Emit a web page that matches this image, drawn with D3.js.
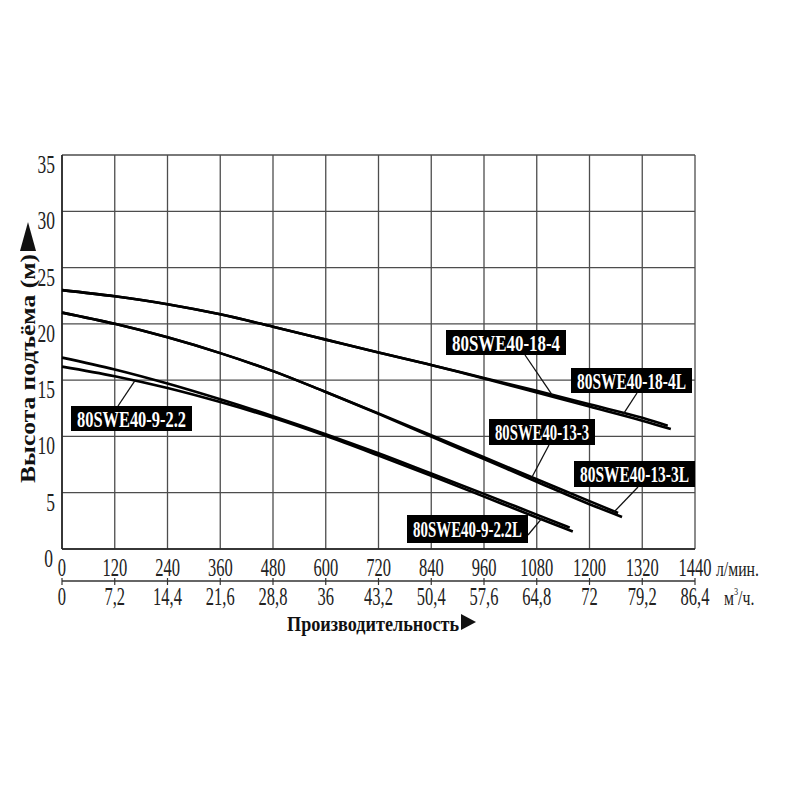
<!DOCTYPE html>
<html>
<head>
<meta charset="utf-8">
<script src="https://cdn.jsdelivr.net/npm/d3@7"></script>
<style>
  body { margin: 0; background: #fff; }
  text { font-family: "Liberation Serif", "DejaVu Serif", serif; }
</style>
</head>
<body>
<script>
// axis ticks
const flowLpm = [0, 120, 240, 360, 480, 600, 720, 840, 960, 1080, 1200, 1320, 1440];
const flowM3h = ["0", "7,2", "14,4", "21,6", "28,8", "36", "43,2", "50,4", "57,6", "64,8", "72", "79,2", "86,4"];
const headTicks = [0, 5, 10, 15, 20, 25, 30, 35];

// pump curves (q in l/min, head in m)
const q_18_4   = [0, 120, 240, 360, 480, 600, 720, 840, 960, 1080, 1200, 1320, 1378];
const h_18_4   = [23.0, 22.45, 21.75, 20.85, 19.75, 18.6, 17.45, 16.35, 15.2, 14.05, 12.85, 11.65, 10.95];
const q_18_4L  = [0, 120, 240, 360, 480, 600, 720, 840, 960, 1080, 1200, 1320, 1385];
const h_18_4L  = [23.0, 22.45, 21.75, 20.85, 19.75, 18.6, 17.45, 16.35, 15.15, 13.9, 12.65, 11.4, 10.65];
const q_13_3   = [0, 120, 240, 360, 480, 600, 720, 840, 960, 1080, 1200, 1265];
const h_13_3   = [21.0, 20.0, 18.8, 17.4, 15.8, 13.95, 12.05, 10.1, 8.15, 6.2, 4.25, 3.2];
const q_13_3L  = [0, 120, 240, 360, 480, 600, 720, 840, 960, 1080, 1200, 1274];
const h_13_3L  = [21.0, 20.0, 18.8, 17.4, 15.8, 13.95, 12.0, 9.98, 7.98, 5.98, 3.98, 2.85];
const q_9_22   = [0, 120, 240, 360, 480, 600, 720, 840, 960, 1080, 1162];
const h_9_22   = [16.2, 15.35, 14.3, 13.05, 11.65, 10.05, 8.3, 6.5, 4.65, 2.8, 1.55];
const q_9_22L  = [0, 120, 240, 360, 480, 600, 720, 840, 960, 1080, 1155];
const h_9_22L  = [17.0, 15.95, 14.7, 13.3, 11.8, 10.2, 8.5, 6.7, 4.9, 3.05, 1.9];

const names = ["80SWE40-18-4", "80SWE40-18-4L", "80SWE40-13-3", "80SWE40-13-3L", "80SWE40-9-2.2", "80SWE40-9-2.2L"];
const flows = [q_18_4, q_18_4L, q_13_3, q_13_3L, q_9_22, q_9_22L];
const heads = [h_18_4, h_18_4L, h_13_3, h_13_3L, h_9_22, h_9_22L];
// flow where each leader line touches its curve
const anchorQ = [1115, 1275, 1069, 1253, 166, 1094];

const svg = d3.select("body").append("svg")
    .attr("width", 800)
    .attr("height", 800);

const x = d3.scaleLinear().domain([0, 1440]).range([62, 695]);
const y = d3.scaleLinear().domain([0, 35]).range([549, 155]);

// the original uses a condensed face: squeeze with a horizontal scale
function squeezed(g, px, py, k) {
    return g.append("text")
        .attr("transform", `translate(${px},${py}) scale(${k},1)`);
}

// grid
const grid = svg.append("g").attr("stroke", "#4d4d4d").attr("stroke-width", 1.3);
grid.selectAll("line.v")
    .data(flowLpm)
    .enter().append("line")
    .attr("x1", d => x(d)).attr("x2", d => x(d))
    .attr("y1", y(35)).attr("y2", y(0));
grid.selectAll("line.h")
    .data(headTicks)
    .enter().append("line")
    .attr("x1", x(0)).attr("x2", x(1440))
    .attr("y1", d => y(d)).attr("y2", d => y(d));
svg.append("line")
    .attr("x1", x(0)).attr("x2", x(0))
    .attr("y1", y(35)).attr("y2", y(0))
    .attr("stroke", "#222").attr("stroke-width", 1.6);
svg.append("line")
    .attr("x1", x(0)).attr("x2", x(1440))
    .attr("y1", y(0)).attr("y2", y(0))
    .attr("stroke", "#222").attr("stroke-width", 1.6);

// y tick labels
const yl = svg.append("g").attr("font-size", 25).attr("fill", "#222").attr("text-anchor", "end");
headTicks.forEach(v => {
    squeezed(yl, v === 0 ? 53 : 55, y(v) + 18, 0.7).text(v);
});

// x tick labels, l/min row
const xl1 = svg.append("g").attr("font-size", 25).attr("fill", "#222").attr("text-anchor", "middle");
flowLpm.forEach(v => {
    squeezed(xl1, x(v), 576, 0.66).text(v);
});
squeezed(svg, 716, 576, 0.75)
    .attr("font-size", 21)
    .attr("fill", "#222")
    .text("л/мин.");

// second axis line with ticks
svg.append("line")
    .attr("x1", x(0)).attr("x2", x(1440))
    .attr("y1", 581).attr("y2", 581)
    .attr("stroke", "#333").attr("stroke-width", 1.4);
svg.append("g").selectAll("line")
    .data(flowLpm)
    .enter().append("line")
    .attr("x1", d => x(d)).attr("x2", d => x(d))
    .attr("y1", 578).attr("y2", 585)
    .attr("stroke", "#333").attr("stroke-width", 1.2);

// x tick labels, m3/h row
const xl2 = svg.append("g").attr("font-size", 25).attr("fill", "#222").attr("text-anchor", "middle");
flowLpm.forEach((v, i) => {
    squeezed(xl2, x(v), 605, 0.66).text(flowM3h[i]);
});
const unit2 = squeezed(svg, 724, 605, 0.75)
    .attr("font-size", 21)
    .attr("fill", "#222");
unit2.append("tspan").text("м");
unit2.append("tspan").attr("font-size", 11).attr("dy", -10).text("3");
unit2.append("tspan").attr("dy", 10).text("/ч.");

// axis titles
svg.append("text")
    .attr("x", 287).attr("y", 631)
    .attr("font-size", 21)
    .attr("font-weight", "bold")
    .attr("fill", "#111")
    .text("Производительность")
    .attr("textLength", 172)
    .attr("lengthAdjust", "spacingAndGlyphs");
svg.append("path")
    .attr("d", "M461,614 L476,622 L461,630 Z")
    .attr("fill", "#111");

svg.append("text")
    .attr("transform", "translate(35,483) rotate(-90)")
    .attr("font-size", 22)
    .attr("font-weight", "bold")
    .attr("fill", "#111")
    .text("Высота подъёма (м)")
    .attr("textLength", 229)
    .attr("lengthAdjust", "spacingAndGlyphs");
svg.append("path")
    .attr("d", "M20,251 L28,222 L36,251 Z")
    .attr("fill", "#111");

// curves
const line = d3.line()
    .x(d => x(d[0]))
    .y(d => y(d[1]))
    .curve(d3.curveMonotoneX);

const curves = names.map((n, i) => flows[i].map((q, j) => [q, heads[i][j]]));

svg.append("g").selectAll("path")
    .data(curves)
    .enter().append("path")
    .attr("d", line)
    .attr("fill", "none")
    .attr("stroke", "#000")
    .attr("stroke-width", 2.6)
    .attr("stroke-linecap", "butt");

// labels: box position, size and leader start in pixels
const boxes = [
    {x: 446, y: 330, w: 120, h: 25, lx: 525, ly: 355},
    {x: 571, y: 368, w: 121, h: 25, lx: 637, ly: 393},
    {x: 489, y: 419, w: 106, h: 26, lx: 549, ly: 445},
    {x: 574, y: 461, w: 121, h: 26, lx: 638, ly: 487},
    {x: 71,  y: 406, w: 121, h: 25, lx: 118, ly: 406},
    {x: 407, y: 515, w: 121, h: 28, lx: 528, ly: 535}
];

function headAt(i, q) {
    const qs = flows[i], hs = heads[i];
    for (let j = 1; j < qs.length; j++) {
        if (q <= qs[j]) {
            const t = (q - qs[j - 1]) / (qs[j] - qs[j - 1]);
            return hs[j - 1] + t * (hs[j] - hs[j - 1]);
        }
    }
    return hs[hs.length - 1];
}

const lab = svg.append("g");
boxes.forEach((b, i) => {
    lab.append("line")
        .attr("x1", b.lx).attr("y1", b.ly)
        .attr("x2", x(anchorQ[i])).attr("y2", y(headAt(i, anchorQ[i])))
        .attr("stroke", "#111").attr("stroke-width", 1.3);
    lab.append("rect")
        .attr("x", b.x).attr("y", b.y)
        .attr("width", b.w).attr("height", b.h)
        .attr("fill", "#000");
    lab.append("text")
        .attr("x", b.x + b.w / 2)
        .attr("y", b.y + b.h / 2 + 8)
        .attr("text-anchor", "middle")
        .attr("font-size", 23)
        .attr("font-weight", "bold")
        .attr("fill", "#fff")
        .text(names[i])
        .attr("textLength", b.w - 12)
        .attr("lengthAdjust", "spacingAndGlyphs");
});
</script>
</body>
</html>
